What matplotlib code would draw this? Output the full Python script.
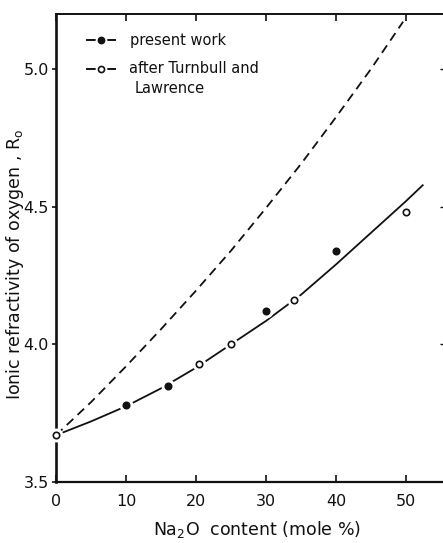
import matplotlib
matplotlib.use("Agg")
import matplotlib.pyplot as plt

plt.rcParams['font.family'] = ['DejaVu Sans']

# Measured ionic refractivity of oxygen
present_x = [10, 16, 30, 40]
present_y = [3.78, 3.85, 4.12, 4.34]

# Values after Turnbull and Lawrence
tl_x = [0, 20.5, 25, 34, 50]
tl_y = [3.67, 3.93, 4.00, 4.16, 4.48]

# Smooth curve through the data
fit_x = [0, 5, 10, 15, 20, 25, 30, 35, 40, 45, 50, 52.4]
fit_y = [3.67, 3.72, 3.775, 3.84, 3.915, 4.00, 4.085, 4.18, 4.29, 4.405, 4.52, 4.578]

# Dashed reference curve
dash_x = [0, 5, 10, 15, 20, 25, 30, 35, 40, 45, 49.6]
dash_y = [3.67, 3.79, 3.92, 4.055, 4.195, 4.34, 4.495, 4.655, 4.825, 5.00, 5.172]

x_ticks = [0, 10, 20, 30, 40, 50]
y_ticks = [3.5, 4.0, 4.5, 5.0]
y_tick_labels = ["3.5", "4.0", "4.5", "5.0"]

ink = "#111111"

fig = plt.figure(figsize=(4.43, 5.43), dpi=100)
ax = fig.add_axes([56 / 443, 61 / 543, 394 / 443, 468 / 543])
ax.set_xlim(0, 56.3)
ax.set_ylim(3.5, 5.2)

ax.plot(dash_x, dash_y, color=ink, lw=1.3, dashes=(5, 3.2), zorder=2)
ax.plot(fit_x, fit_y, color=ink, lw=1.3, zorder=2)

# white halos break the line around each marker
all_x = present_x + tl_x
all_y = present_y + tl_y
ax.plot(all_x, all_y, ls="none", marker="o", ms=10, mfc="white", mec="none",
        zorder=3, clip_on=False)
ax.plot(present_x, present_y, ls="none", marker="o", ms=4.8, mfc=ink, mec=ink,
        zorder=4, clip_on=False)
ax.plot(tl_x, tl_y, ls="none", marker="o", ms=4.6, mfc="white", mec=ink, mew=1.2,
        zorder=4, clip_on=False)

# legend keys
def key(y, filled):
    ax.plot([0.0787, 0.1497], [y, y], color=ink, lw=1.4, transform=ax.transAxes, zorder=2)
    ax.plot([0.114], [y], ls="none", marker="o", ms=8.5, mfc="white", mec="none",
            transform=ax.transAxes, zorder=3)
    if filled:
        ax.plot([0.114], [y], ls="none", marker="o", ms=4.6, mfc=ink, mec=ink,
                transform=ax.transAxes, zorder=4)
    else:
        ax.plot([0.114], [y], ls="none", marker="o", ms=4.4, mfc="white", mec=ink,
                mew=1.2, transform=ax.transAxes, zorder=4)

key(0.944, True)
key(0.8825, False)
ax.text(0.188, 0.944, "present work", transform=ax.transAxes, fontsize=10.5,
        ha="left", va="center", color=ink)
ax.text(0.185, 0.8825, "after Turnbull and", transform=ax.transAxes, fontsize=10.5,
        ha="left", va="center", color=ink)
ax.text(0.200, 0.840, "Lawrence", transform=ax.transAxes, fontsize=10.5,
        ha="left", va="center", color=ink)

# axes frame and ticks
ax.spines['right'].set_visible(False)
ax.spines['left'].set_linewidth(1.9)
ax.spines['bottom'].set_linewidth(1.6)
ax.spines['top'].set_linewidth(1.4)
for s in ax.spines.values():
    s.set_color(ink)

ax.set_xticks(x_ticks)
ax.set_xticklabels([str(v) for v in x_ticks])
ax.set_yticks(y_ticks)
ax.set_yticklabels(y_tick_labels)
ax.tick_params(axis='x', direction='in', length=5, width=1.2, top=True, bottom=True,
               labelsize=11.5, pad=9, colors=ink)
ax.tick_params(axis='y', direction='out', length=3, width=1.2, left=True, right=False,
               labelsize=11.5, pad=2, colors=ink)

sec = ax.secondary_yaxis('right')
sec.set_yticks([4.0, 4.5, 5.0])
sec.tick_params(direction='in', length=7, width=1.0, labelright=False, colors=ink)
sec.spines['right'].set_visible(False)

fig.text(15 / 443, 1 - 264 / 543, "Ionic refractivity of oxygen , R$_\\mathregular{o}$",
         rotation=90, ha="center", va="center", fontsize=12.5, color=ink)
fig.text(257 / 443, 1 - 530 / 543, "Na$_\\mathregular{2}$O  content (mole %)",
         ha="center", va="center", fontsize=12.5, color=ink)

fig.savefig("out.png", dpi=100)
